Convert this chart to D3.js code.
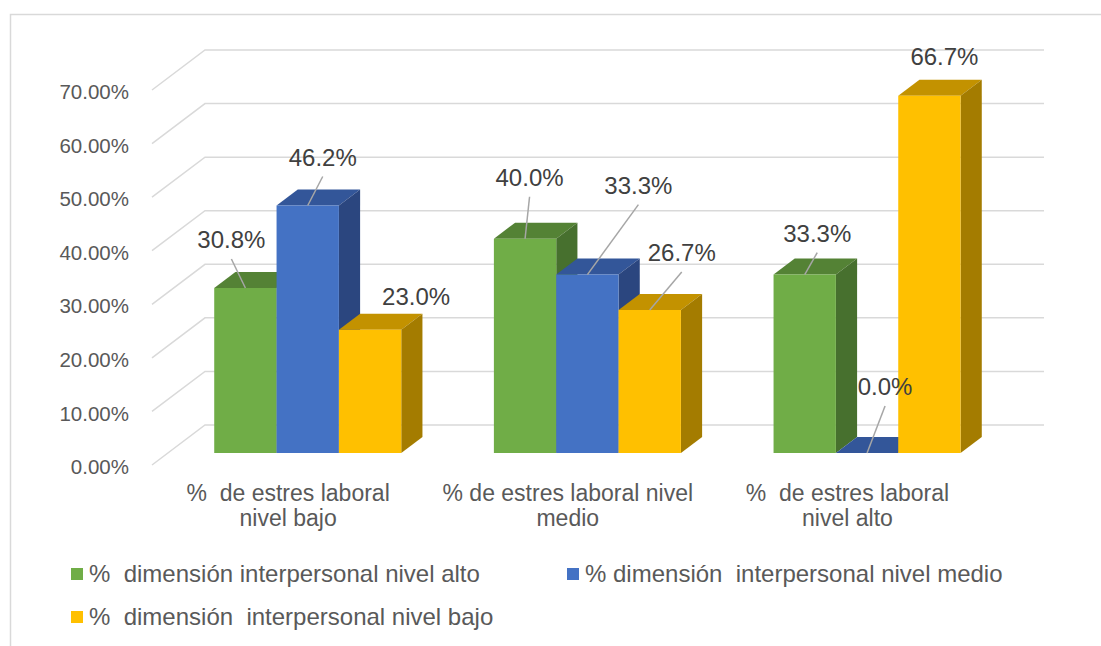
<!DOCTYPE html>
<html>
<head>
<meta charset="utf-8">
<script src="https://cdn.jsdelivr.net/npm/d3@7/dist/d3.min.js"></script>
<style>
  html, body { margin: 0; padding: 0; background: #fff; }
  svg { display: block; font-family: "Liberation Sans", Arial, sans-serif; }
  text { white-space: pre; }
</style>
</head>
<body>
<svg id="chart" width="1101" height="646"></svg>
<script>
// ---- data ----
const categories = ["%  de estres laboral nivel bajo", "% de estres laboral nivel medio", "%  de estres laboral nivel alto"];
const categoryLines = [["%  de estres laboral", "nivel bajo"], ["% de estres laboral nivel", "medio"], ["%  de estres laboral", "nivel alto"]];
const seriesNames = ["%  dimensión interpersonal nivel alto", "% dimensión  interpersonal nivel medio", "%  dimensión  interpersonal nivel bajo"];
const valuesAlto  = [0.308, 0.400, 0.333];
const valuesMedio = [0.462, 0.333, 0.000];
const valuesBajo  = [0.230, 0.267, 0.667];
const tickValues = [0, 0.1, 0.2, 0.3, 0.4, 0.5, 0.6, 0.7];

// ---- styling / layout (not data) ----
const frontColors = ["#70AD47", "#4472C4", "#FFC000"];
const topColors   = ["#548235", "#335699", "#C39200"];
const sideColors  = ["#47702E", "#2B467F", "#A47C00"];
// label nudges relative to the bar's front-top centre: [dx, dy, leader?]
const labelNudge = [
  [[-14, -48, true], [4.5, -61, true], [12.5, -41, true]],
  [[15, -48, true], [51, -89, true], [18, -66, true]],
  [[46, -33, false], [32, -57, true], [15, -39, false]]
];

const seriesValues = [valuesAlto, valuesMedio, valuesBajo];
const svg = d3.select("#chart");

// frame
svg.append("rect").attr("x", 10.5).attr("y", 14.5).attr("width", 1100).attr("height", 640)
  .attr("fill", "none").attr("stroke", "#D9D9D9").attr("stroke-width", 1.5);

// scales (back wall coordinates)
const x0 = d3.scaleBand().domain(categories).range([205, 1044]).paddingInner(0).paddingOuter(0);
const x1 = d3.scaleBand().domain(seriesNames).range([0, x0.bandwidth()]).paddingInner(0).paddingOuter(0.743);
const y = d3.scaleLinear().domain([0, 0.7]).range([425, 50]);
const D = { dx: -53, dy: 40 };           // projection of full depth (back -> front)
const proj = (x, yy, d) => [x + D.dx * d, yy + D.dy * d];
const dFront = 0.7, dBack = 0.3;

// gridlines
const grid = svg.append("g");
tickValues.forEach(t => {
  const yb = y(t);
  const f = proj(x0.range()[0], yb, 1);
  grid.append("path")
    .attr("d", `M${f[0]},${f[1]}L${x0.range()[0]},${yb}L${x0.range()[1]},${yb}`)
    .attr("fill", "none").attr("stroke", "#D9D9D9").attr("stroke-width", 1.5);
  grid.append("text")
    .attr("x", 129).attr("y", f[1] + 2).attr("dy", "0.35em")
    .attr("text-anchor", "end").attr("font-size", 20.5).attr("fill", "#595959")
    .text(d3.format(".2%")(t));
});

// bars
const barsG = svg.append("g");
const bars = [];
categories.forEach((c, ci) => {
  seriesNames.forEach((s, si) => {
    const v = seriesValues[si][ci];
    const xl = x0(c) + x1(s), xr = xl + x1.bandwidth();
    const fbl = proj(xl, y(0), dFront), fbr = proj(xr, y(0), dFront);
    const ftl = proj(xl, y(v), dFront), ftr = proj(xr, y(v), dFront);
    const btl = proj(xl, y(v), dBack), btr = proj(xr, y(v), dBack), bbr = proj(xr, y(0), dBack);
    const poly = pts => "M" + pts.map(p => p.join(",")).join("L") + "Z";
    barsG.append("path").attr("d", poly([ftl, ftr, btr, btl])).attr("fill", topColors[si]);
    barsG.append("path").attr("d", poly([ftr, btr, bbr, fbr])).attr("fill", sideColors[si]);
    barsG.append("path").attr("d", poly([ftl, ftr, fbr, fbl])).attr("fill", frontColors[si]);
    bars.push({ ci, si, v, cx: (ftl[0] + ftr[0]) / 2, ty: ftl[1] });
  });
});

// data labels
const labG = svg.append("g");
bars.forEach(b => {
  const n = labelNudge[b.si][b.ci];
  const tx = b.cx + n[0], ty = b.ty + n[1];
  if (n[2]) {
    labG.append("line").attr("x1", tx).attr("y1", ty + 19).attr("x2", b.cx).attr("y2", b.ty)
      .attr("stroke", "#A6A6A6").attr("stroke-width", 1.5);
  }
  labG.append("text").attr("x", tx).attr("y", ty).attr("dy", "0.35em")
    .attr("text-anchor", "middle").attr("font-size", 24).attr("fill", "#404040")
    .text(d3.format(".1%")(b.v));
});

// category labels
categories.forEach((c, ci) => {
  const cx = x0(c) + x0.bandwidth() / 2 + D.dx * 1.07;
  categoryLines[ci].forEach((line, li) => {
    svg.append("text").attr("x", cx).attr("y", 501 + li * 25)
      .attr("text-anchor", "middle").attr("font-size", 23).attr("fill", "#595959")
      .text(line);
  });
});

// legend
const legendPos = [[71, 568], [567, 568], [71, 611]];
seriesNames.forEach((s, si) => {
  const [lx, ly] = legendPos[si];
  svg.append("rect").attr("x", lx).attr("y", ly).attr("width", 12).attr("height", 12).attr("fill", frontColors[si]);
  svg.append("text").attr("x", lx + 18).attr("y", ly + 14)
    .attr("font-size", 24).attr("fill", "#595959").text(s);
});
</script>
</body>
</html>
